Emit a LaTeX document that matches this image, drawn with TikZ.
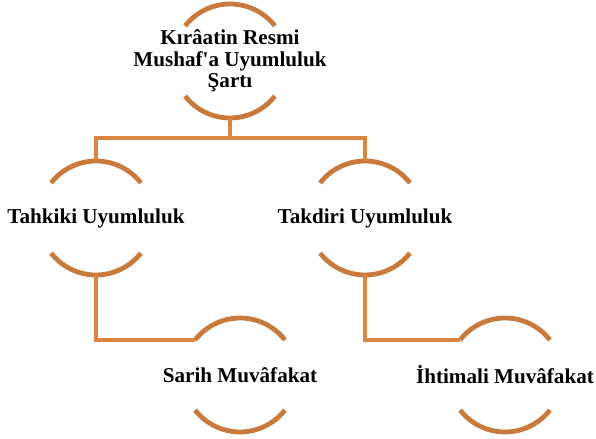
\documentclass[tikz,border=0pt]{standalone}
\usepackage{fontspec}
\setmainfont{Liberation Serif}
\usetikzlibrary{calc}
\definecolor{ringbrown}{RGB}{200,122,60}
\definecolor{linkorange}{RGB}{218,134,66}
\tikzset{
	ringarc/.style = {draw=ringbrown, line width=4.8bp},
	link/.style = {draw=linkorange, line width=4bp},
	label/.style = {font=\fontsize{21.2}{21.5}\selectfont\bfseries, align=center, inner sep=0pt},
}
\newcommand\ringarcs[1]{%
	\draw[ringarc] ($(#1)+(38:57)$) arc (38:142:57);
	\draw[ringarc] ($(#1)+(218:57)$) arc (218:322:57);
}
\begin{document}
\begin{tikzpicture}[x=1bp, y=1bp]
	\useasboundingbox (0,0) rectangle (596,439);
	
	\node[label] at (230, 378)   (sart) {Kırâatin Resmi\\Mushaf\textquotesingle a Uyumluluk\\Şartı};
	\node[label] at (96, 221)    (tahkiki) {Tahkiki Uyumluluk};
	\node[label] at (365, 221)   (takdiri) {Takdiri Uyumluluk};
	\node[label] at (240, 64)    (sarih) {Sarih Muvâfakat};
	\node[label] at (505, 64)    (ihtimali) {İhtimali Muvâfakat};
	
	\ringarcs{sart}
	\ringarcs{tahkiki}
	\ringarcs{takdiri}
	\ringarcs{sarih}
	\ringarcs{ihtimali}
	
	% ends of the connectors on the rings
	\coordinate (sart-s) at ($(sart.center)+(0,-57)$);
	\coordinate (tahkiki-n) at ($(tahkiki.center)+(0,57)$);
	\coordinate (tahkiki-s) at ($(tahkiki.center)+(0,-57)$);
	\coordinate (takdiri-n) at ($(takdiri.center)+(0,57)$);
	\coordinate (takdiri-s) at ($(takdiri.center)+(0,-57)$);
	\coordinate (sarih-w) at ($(sarih.center)+(142:57)$);
	\coordinate (ihtimali-w) at ($(ihtimali.center)+(142:57)$);
	
	\draw[link] (sart-s) -- ++(0,-20) coordinate (fork);
	\draw[link] (tahkiki-n) |- (fork) -| (takdiri-n);
	\draw[link] (tahkiki-s) |- (sarih-w);
	\draw[link] (takdiri-s) |- (ihtimali-w);
\end{tikzpicture}
\end{document}
